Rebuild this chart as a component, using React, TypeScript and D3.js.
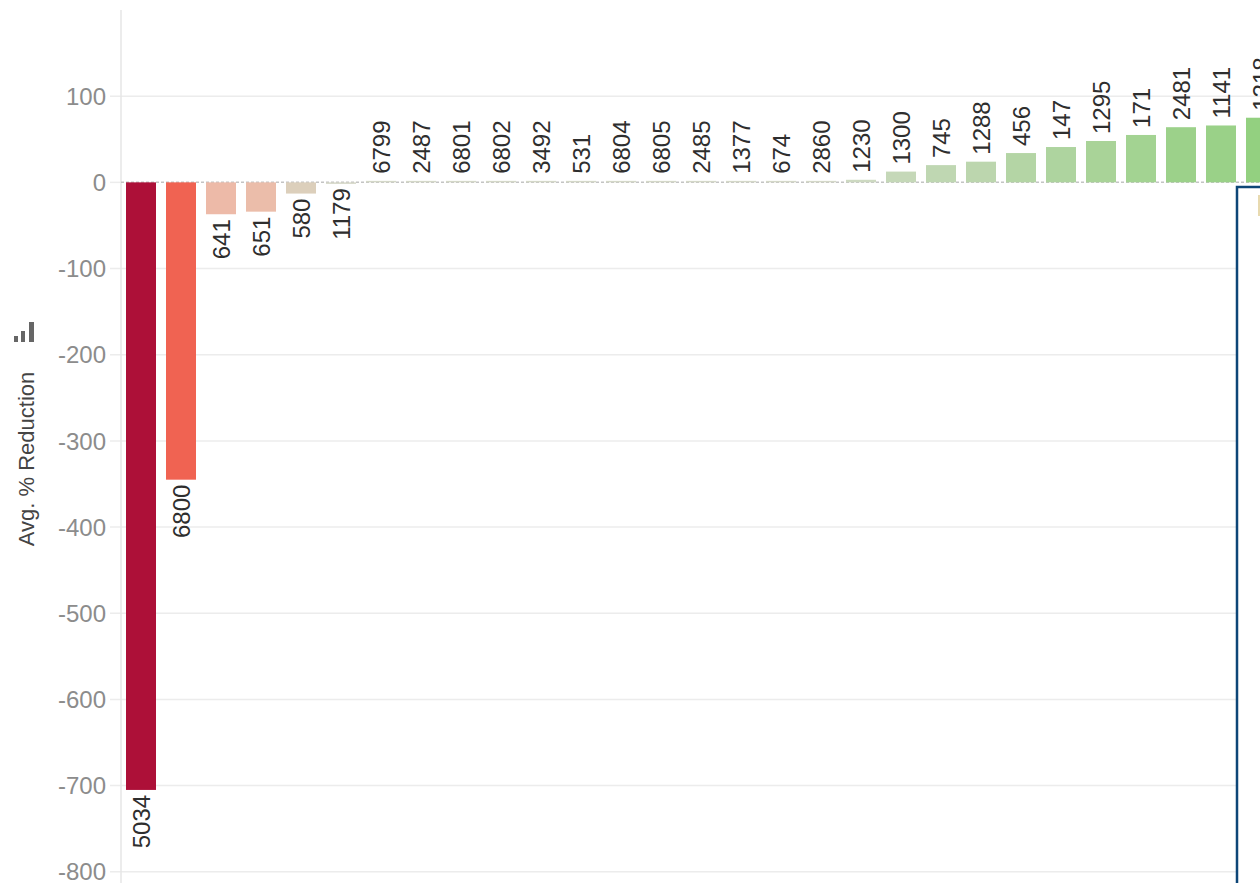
import React from 'react';
import * as d3 from 'd3';

// store ids along the x axis (sorted by avg reduction)
const storeIds = [
  '5034', '6800', '641', '651', '580', '1179', '6799', '2487', '6801', '6802',
  '3492', '531', '6804', '6805', '2485', '1377', '674', '2860', '1230', '1300',
  '745', '1288', '456', '147', '1295', '171', '2481', '1141', '1218',
];
// Avg. % Reduction
const avgReduction = [
  -705, -345, -37, -34, -13, -1, 0, 0, 0, 0,
  0, 0, 0, 0, 0, 0, 0, 0, 3, 12.5,
  20, 24, 34, 41, 48, 55, 64, 66, 75,
];
const yTickValues = [100, 0, -100, -200, -300, -400, -500, -600, -700, -800];

const width = 1260;
const height = 883;
const margin = { top: 10, right: 0, bottom: 0, left: 121 };
const font = '"Liberation Sans", Arial, sans-serif';

export default function App() {
  const x = d3
    .scaleBand<string>()
    .domain(storeIds)
    .range([margin.left, margin.left + storeIds.length * 40])
    .paddingInner(0.25)
    .paddingOuter(0.125);

  const y = d3
    .scaleLinear()
    .domain([200, -813])
    .range([margin.top, height - margin.bottom]);

  // diverging red / green colour, centred on zero
  const color = d3
    .scaleLinear<string>()
    .domain([-705, -345, -37, -13, 0, 3, 75])
    .range(['#ad1038', '#f06352', '#edbaa8', '#dccfbb', '#d4d8c8', '#cdd9c1', '#93d080'])
    .clamp(true);

  const y0 = y(0);

  return (
    <svg
      width={width}
      height={height}
      style={{ position: 'absolute', left: 0, top: 0, background: '#fff', overflow: 'hidden' }}
      fontFamily={font}
    >
      {/* grid lines + tick labels */}
      <g>
        {yTickValues.map((t) => (
          <g key={t}>
            {t !== 0 && (
              <line x1={110} x2={width} y1={y(t)} y2={y(t)} stroke="#ececec" strokeWidth={1.5} />
            )}
            {t === 0 && <line x1={110} x2={margin.left} y1={y0} y2={y0} stroke="#ececec" strokeWidth={1.5} />}
            <text
              x={106}
              y={y(t)}
              dy="0.36em"
              textAnchor="end"
              fontSize={24}
              fill="#8c8c8c"
            >
              {t}
            </text>
          </g>
        ))}
      </g>

      {/* y axis line */}
      <line x1={margin.left} x2={margin.left} y1={margin.top} y2={height} stroke="#e6e6e6" strokeWidth={1.5} />

      {/* zero reference line */}
      <line
        x1={margin.left}
        x2={width}
        y1={y0}
        y2={y0}
        stroke="#c4c4c4"
        strokeWidth={1.5}
        strokeDasharray="3,2"
      />

      {/* bars */}
      <g>
        {storeIds.map((id, i) => {
          const v = avgReduction[i];
          const top = Math.min(y(v), y0);
          const h = Math.max(Math.abs(y(v) - y0), 1.5);
          return (
            <rect
              key={id}
              x={x(id)}
              y={v >= 0 ? y0 - h : top}
              width={x.bandwidth()}
              height={h}
              fill={color(v)}
            />
          );
        })}
      </g>

      {/* bar labels */}
      <g>
        {storeIds.map((id, i) => {
          const v = avgReduction[i];
          const cx = (x(id) as number) + x.bandwidth() / 2;
          const neg = v < -0.5;
          const ly = neg ? y(v) + 5 : Math.min(y(v), y0 - 1.5) - 7;
          return (
            <text
              key={id}
              transform={`translate(${cx},${ly}) rotate(-90)`}
              dy="0.36em"
              textAnchor={neg ? 'end' : 'start'}
              fontSize={24}
              fill="#2e2e2e"
            >
              {id}
            </text>
          );
        })}
      </g>

      {/* axis title with sort icon */}
      <text
        transform={`translate(${34},${459}) rotate(-90)`}
        textAnchor="middle"
        fontSize={22}
        fill="#444"
      >
        Avg. % Reduction
      </text>
      <g fill="#666">
        <rect x={14} y={336} width={4} height={6} />
        <rect x={21} y={331} width={4} height={11} />
        <rect x={29} y={322} width={5} height={20} />
      </g>

      {/* partially visible panel at the right edge */}
      <rect x={1237} y={187} width={40} height={720} fill="#fff" stroke="#0d4677" strokeWidth={2.5} />
      <rect x={1258} y={195} width={6} height={21} fill="#e8dab0" />
    </svg>
  );
}
